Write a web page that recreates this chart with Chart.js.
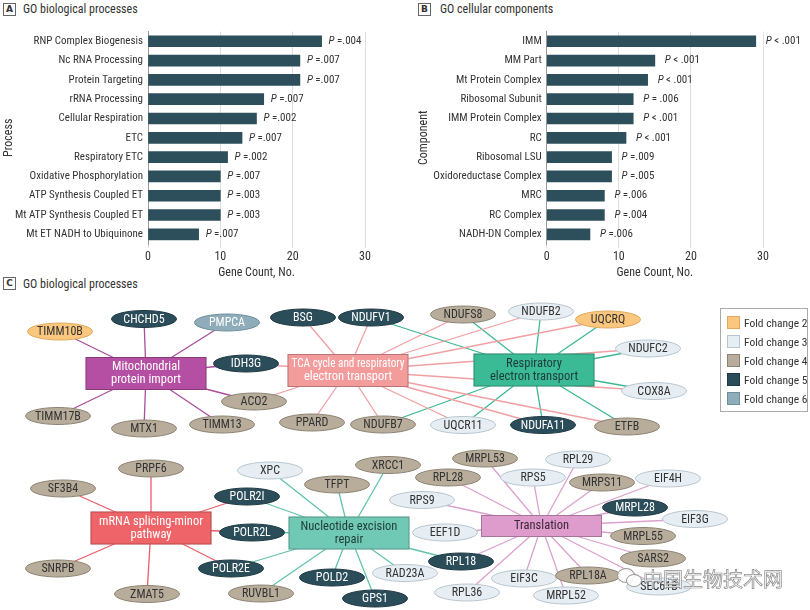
<!DOCTYPE html>
<html>
<head>
<meta charset="utf-8">
<script src="https://cdn.jsdelivr.net/npm/chart.js@4.4.0/dist/chart.umd.min.js"></script>
<style>
  body { margin: 0; background: #fff; font-family: "Roboto Condensed", "DejaVu Sans Condensed", sans-serif; color: #333; }
  #page { position: relative; width: 810px; height: 610px; overflow: hidden; }
  .box { position: absolute; width: 11px; height: 11px; border: 1px solid #666; font-size: 9px; font-weight: bold; text-align: center; line-height: 11px; font-family: "DejaVu Sans", sans-serif; }
  .head { position: absolute; font-size: 12px; white-space: nowrap; }
  .wrap { position: absolute; }
  #legend { position: absolute; left: 720px; top: 308px; width: 86px; height: 102px; border: 1px solid #aaa; }
  .li { position: absolute; left: 6px; font-size: 11.5px; height: 14px; line-height: 14px; white-space: nowrap; }
  .sw { display: inline-block; width: 11px; height: 11px; border: 1px solid #999; vertical-align: -2px; margin-right: 4px; }
  #mark { position: absolute; left: 643px; top: 564px; font-size: 20px; font-family: "Noto Sans CJK SC", sans-serif; color: rgba(255,255,255,0.85); -webkit-text-stroke: 0.7px #8a8a8a; }
  .burbuja { position: absolute; border: 1px solid #9a9a9a; border-radius: 50%; background: rgba(255,255,255,0.85); }
</style>
</head>
<body>
<div id="page">
  <div class="box" style="left:3px;top:3px;">A</div>
  <div class="head" style="left:23px;top:2px;">GO biological processes</div>
  <div class="box" style="left:418px;top:3px;">B</div>
  <div class="head" style="left:440px;top:2px;">GO cellular components</div>
  <div class="box" style="left:3px;top:277px;">C</div>
  <div class="head" style="left:23px;top:277px;">GO biological processes</div>

  <div class="wrap" style="left:0;top:20px;"><canvas id="barrasA" width="400" height="264"></canvas></div>
  <div class="wrap" style="left:405px;top:20px;"><canvas id="barrasB" width="405" height="264"></canvas></div>
  <div class="wrap" style="left:0;top:292px;"><canvas id="red" width="810" height="318"></canvas></div>

  <div id="legend"></div>
  <div class="burbuja" style="left:617px;top:568px;width:16px;height:13px;"></div>
  <div class="burbuja" style="left:626px;top:574px;width:14px;height:11px;"></div>
  <div id="mark">中国生物技术网</div>
</div>

<script>
// ---- panel A data ----
var procesos = ["RNP Complex Biogenesis", "Nc RNA Processing", "Protein Targeting", "rRNA Processing",
  "Cellular Respiration", "ETC", "Respiratory ETC", "Oxidative Phosphorylation",
  "ATP Synthesis Coupled ET", "Mt ATP Synthesis Coupled ET", "Mt ET NADH to Ubiquinone"];
var cuentasA = [24, 21, 21, 16, 15, 13, 11, 10, 10, 10, 7];
var pA = ["=.004", "=.007", "=.007", "=.007", "=.002", "=.007", "=.002", "=.007", "=.003", "=.003", "=.007"];

// ---- panel B data ----
var componentes = ["IMM", "MM Part", "Mt Protein Complex", "Ribosomal Subunit", "IMM Protein Complex",
  "RC", "Ribosomal LSU", "Oxidoreductase Complex", "MRC", "RC Complex", "NADH-DN Complex"];
var cuentasB = [29, 15, 14, 12, 12, 11, 9, 9, 8, 8, 6];
var pB = ["< .001", "< .001", "< .001", "= .006", "< .001", "< .001", "=.009", "=.005", "=.006", "=.004", "=.006"];

var ticksX = [0, 10, 20, 30];

// ---- panel C data (layout units) ----
var hubNames = [["Mitochondrial", "protein import"], ["TCA cycle and respiratory", "electron transport"],
  ["Respiratory", "electron transport"], ["mRNA splicing-minor", "pathway"],
  ["Nucleotide excision", "repair"], ["Translation"]];
var hubX = [146, 348, 534, 151, 349, 541.5];
var hubY = [373.5, 370.5, 370, 528, 533, 526];
var hubH = [33, 33, 33, 33, 33, 22];
var hubColor = ["#b54fa3", "#f49c9c", "#3bba96", "#ef6468", "#70c9b5", "#de9ccc"];
var hubText = ["#ffffff", "#ffffff", "#1f3b38", "#ffffff", "#1f3b38", "#3a2637"];
var edgeColor = ["#aa4e9a", "#f19fa2", "#3bb893", "#eb5c68", "#63c3aa", "#dca0cd"];

var genes = ["TIMM10B", "CHCHD5", "PMPCA", "IDH3G", "ACO2", "TIMM17B", "MTX1", "TIMM13",
  "BSG", "NDUFV1", "PPARD", "NDUFB7", "NDUFS8", "NDUFB2", "UQCRQ", "NDUFC2", "COX8A",
  "UQCR11", "NDUFA11", "ETFB",
  "PRPF6", "SF3B4", "POLR2I", "POLR2L", "POLR2E", "SNRPB", "ZMAT5",
  "XPC", "TFPT", "XRCC1", "RUVBL1", "POLD2", "GPS1", "RAD23A",
  "MRPL53", "RPL29", "RPL28", "RPS5", "MRPS11", "EIF4H", "RPS9", "MRPL28", "EIF3G",
  "EEF1D", "MRPL55", "SARS2", "RPL18", "EIF3C", "RPL18A", "SEC61B", "RPL36", "MRPL52"];
var geneX = [60, 144, 227, 246, 254, 58, 144, 222,
  303, 371, 312, 383, 463, 541, 608, 648, 654,
  463, 543, 627,
  151, 63, 247, 252, 231, 58, 147,
  270, 337, 388, 261, 332, 375, 405,
  485, 578, 448, 533, 602, 668, 422, 635, 695,
  445, 643, 653, 461, 524, 588, 659, 467, 566];
var geneY = [331.5, 319, 322.5, 363.5, 401.5, 416, 428.5, 424.5,
  317.5, 317.5, 422.5, 424.5, 314.5, 311.5, 319.5, 348.5, 391,
  425, 425, 426.5,
  468.5, 488.5, 496.5, 532.5, 568.5, 568.5, 594,
  470.5, 484.5, 465, 593.5, 577.5, 598.5, 573,
  458.5, 459.5, 477.5, 477.5, 482.5, 478.5, 500, 507.5, 519,
  532.5, 536, 558.5, 561.5, 578.5, 575.5, 586.5, 592.5, 595.5];
var geneFold = [2, 5, 6, 5, 4, 4, 4, 4,
  5, 5, 4, 4, 4, 3, 2, 3, 3,
  3, 5, 4,
  4, 4, 5, 5, 5, 4, 4,
  3, 4, 4, 4, 5, 5, 3,
  4, 3, 4, 3, 4, 3, 3, 5, 3,
  3, 4, 4, 5, 3, 4, 3, 3, 3];

var mitoGenes = ["TIMM10B", "CHCHD5", "PMPCA", "IDH3G", "ACO2", "TIMM17B", "MTX1", "TIMM13"];
var tcaGenes = ["BSG", "NDUFV1", "IDH3G", "ACO2", "PPARD", "NDUFB7", "NDUFS8", "NDUFB2", "UQCRQ",
  "NDUFC2", "COX8A", "UQCR11", "NDUFA11", "ETFB"];
var respGenes = ["NDUFV1", "NDUFS8", "NDUFB2", "UQCRQ", "NDUFC2", "COX8A", "ETFB", "NDUFA11",
  "UQCR11", "NDUFB7"];
var splicingGenes = ["PRPF6", "SF3B4", "POLR2I", "POLR2L", "POLR2E", "SNRPB", "ZMAT5"];
var repairGenes = ["POLR2I", "POLR2L", "POLR2E", "XPC", "TFPT", "XRCC1", "RUVBL1", "POLD2", "GPS1",
  "RAD23A", "RPL18"];
var translationGenes = ["MRPL53", "RPL29", "RPL28", "RPS5", "MRPS11", "EIF4H", "RPS9", "MRPL28",
  "EIF3G", "EEF1D", "MRPL55", "SARS2", "RPL18", "EIF3C", "RPL18A", "SEC61B", "RPL36", "MRPL52"];

var foldLevels = [2, 3, 4, 5, 6];
var foldFill = ["#fbc77e", "#e7eef3", "#b8ad9b", "#2b4d5a", "#8eacba"];
var foldStroke = ["#e0a95c", "#b8c6d0", "#8d8373", "#1f3943", "#6f8e9c"];
var foldText = ["#333", "#333", "#333", "#fff", "#fff"];

var FUENTE = '"Roboto Condensed", "DejaVu Sans Condensed", sans-serif';
var BARRA = "#2d4f5b";

function etiquetasP(textos, offset) {
  return {
    id: "etiquetasP",
    afterDatasetsDraw: function (chart) {
      var ctx = chart.ctx;
      var meta = chart.getDatasetMeta(0);
      ctx.save();
      ctx.fillStyle = "#333";
      ctx.textBaseline = "middle";
      meta.data.forEach(function (bar, i) {
        var x = bar.x + offset;
        ctx.font = "italic 11px " + FUENTE;
        ctx.fillText("P", x, bar.y);
        var w = ctx.measureText("P ").width;
        ctx.font = "11px " + FUENTE;
        ctx.fillText(textos[i], x + w, bar.y);
      });
      ctx.restore();
    }
  };
}

function cargaGraficoBarras(id, labels, valores, textos, titulo, anchoY, padTitulo, padDer, offset) {
  var grafico = document.getElementById(id).getContext("2d");
  new Chart(grafico, {
    type: "bar",
    data: {
      labels: labels,
      datasets: [{ data: valores, backgroundColor: BARRA, barThickness: 11 }]
    },
    options: {
      indexAxis: "y",
      responsive: false,
      animation: false,
      devicePixelRatio: 1,
      layout: { padding: { top: 7, right: padDer, left: 0, bottom: 0 } },
      plugins: { legend: { display: false }, tooltip: { enabled: false } },
      scales: {
        x: {
          min: 0, max: 30,
          afterBuildTicks: function (s) { s.ticks = ticksX.map(function (v) { return { value: v }; }); },
          afterFit: function (s) { s.height = 40; },
          grid: { color: "#dedede", tickLength: 4, drawTicks: true },
          border: { display: false },
          ticks: { color: "#333", font: { family: FUENTE, size: 12 }, padding: 2 },
          title: { display: true, text: "Gene Count, No.", color: "#333", font: { family: FUENTE, size: 12 }, padding: { top: 2, bottom: 4 } }
        },
        y: {
          afterFit: function (s) { s.width = anchoY; },
          grid: { display: false, drawTicks: false },
          border: { display: true, color: "#9a9a9a" },
          ticks: { color: "#333", font: { family: FUENTE, size: 11 }, padding: 5 },
          title: { display: true, text: titulo, color: "#333", font: { family: FUENTE, size: 12 }, padding: { top: padTitulo, bottom: 0 } }
        }
      }
    },
    plugins: [etiquetasP(textos, offset)]
  });
}

function indiceGen(nombre) { return genes.indexOf(nombre); }

function aristas(h, lista) {
  var pts = [];
  lista.forEach(function (g) {
    var k = indiceGen(g);
    pts.push({ x: hubX[h], y: hubY[h] });
    pts.push({ x: geneX[k], y: geneY[k] });
    pts.push({ x: NaN, y: NaN });
  });
  return {
    data: pts, showLine: true, spanGaps: false, pointRadius: 0,
    borderColor: edgeColor[h], borderWidth: 1.3
  };
}

var nodosPlugin = {
  id: "nodos",
  afterDatasetsDraw: function (chart) {
    var ctx = chart.ctx, sx = chart.scales.x, sy = chart.scales.y;
    ctx.save();
    ctx.textAlign = "center";
    ctx.textBaseline = "middle";
    // hub boxes
    hubNames.forEach(function (lineas, i) {
      var x0 = sx.getPixelForValue(hubX[i] - 60.5), x1 = sx.getPixelForValue(hubX[i] + 60.5);
      var y0 = sy.getPixelForValue(hubY[i] - hubH[i] / 2), y1 = sy.getPixelForValue(hubY[i] + hubH[i] / 2);
      ctx.fillStyle = hubColor[i];
      ctx.fillRect(x0, y0, x1 - x0, y1 - y0);
      ctx.strokeStyle = "rgba(0,0,0,0.25)";
      ctx.lineWidth = 1;
      ctx.strokeRect(x0 + 0.5, y0 + 0.5, x1 - x0 - 1, y1 - y0 - 1);
      ctx.fillStyle = hubText[i];
      ctx.font = "12.5px " + FUENTE;
      var cy = (y0 + y1) / 2;
      lineas.forEach(function (t, j) {
        ctx.fillText(t, (x0 + x1) / 2, cy + (j - (lineas.length - 1) / 2) * 13, 113);
      });
    });
    // gene ellipses
    genes.forEach(function (g, i) {
      var f = foldLevels.indexOf(geneFold[i]);
      var cx = sx.getPixelForValue(geneX[i]), cy = sy.getPixelForValue(geneY[i]);
      var rx = sx.getPixelForValue(geneX[i] + 32.5) - cx;
      var ry = sy.getPixelForValue(geneY[i] + 8.5) - cy;
      ctx.beginPath();
      ctx.ellipse(cx, cy, Math.abs(rx), Math.abs(ry), 0, 0, Math.PI * 2);
      ctx.fillStyle = foldFill[f];
      ctx.fill();
      ctx.strokeStyle = foldStroke[f];
      ctx.lineWidth = 1;
      ctx.stroke();
      ctx.fillStyle = foldText[f];
      ctx.font = "12px " + FUENTE;
      ctx.fillText(g, cx, cy + 0.5, 50);
    });
    ctx.restore();
  }
};

function cargaRed() {
  var sets = [
    aristas(0, mitoGenes), aristas(1, tcaGenes), aristas(2, respGenes),
    aristas(3, splicingGenes), aristas(4, repairGenes), aristas(5, translationGenes)
  ];
  new Chart(document.getElementById("red").getContext("2d"), {
    type: "scatter",
    data: { datasets: sets },
    options: {
      responsive: false,
      animation: false,
      devicePixelRatio: 1,
      layout: { padding: 0 },
      plugins: { legend: { display: false }, tooltip: { enabled: false } },
      scales: {
        x: { type: "linear", min: 0, max: 810, display: false },
        y: { type: "linear", min: 292, max: 610, reverse: true, display: false }
      }
    },
    plugins: [nodosPlugin]
  });
}

function cargaLeyenda() {
  var caja = document.getElementById("legend");
  foldLevels.forEach(function (f, i) {
    var d = document.createElement("div");
    d.className = "li";
    d.style.top = (7 + i * 18.9) + "px";
    d.innerHTML = '<span class="sw" style="background:' + foldFill[i] + ';border-color:' + foldStroke[i] + '"></span>Fold change ' + f;
    caja.appendChild(d);
  });
}

window.onload = function () {
  "use strict";
  cargaGraficoBarras("barrasA", procesos, cuentasA, pA, "Process", 148, 2, 35, 7);
  cargaGraficoBarras("barrasB", componentes, cuentasB, pB, "Component", 141.7, 12, 47, 10);
  cargaRed();
  cargaLeyenda();
};
</script>
</body>
</html>
